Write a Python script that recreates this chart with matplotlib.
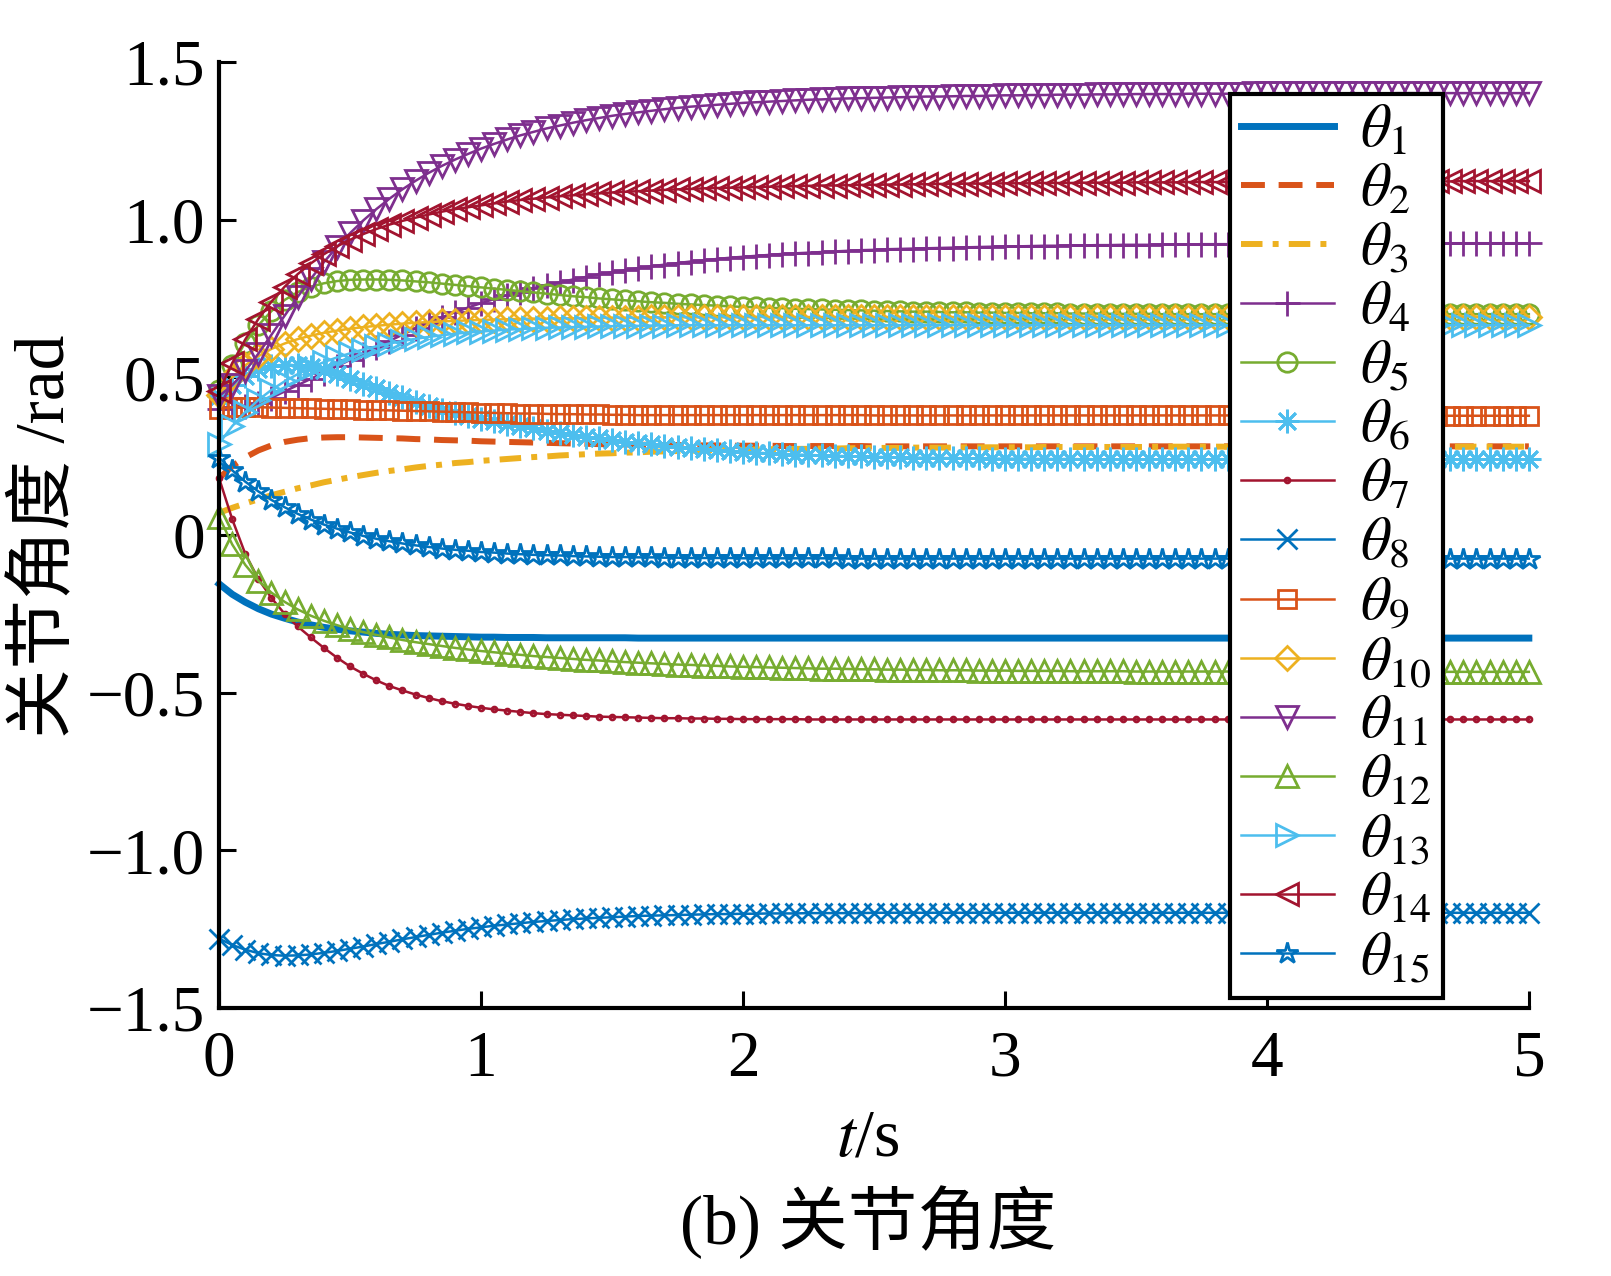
"""Joint angle trajectories theta_1..theta_15 over 0-5 s (panel b)."""
import numpy as np
import matplotlib
matplotlib.use("Agg")
import matplotlib.pyplot as plt

plt.rcParams["font.family"] = ["Liberation Serif", "Noto Sans CJK SC"]
plt.rcParams["mathtext.fontset"] = "stix"

# sample times (s), one marker per sample
t = np.linspace(0.0, 5.0, 101)

theta1 = [
    -0.155, -0.188, -0.213, -0.234, -0.251, -0.264, -0.276, -0.285, -0.293, -0.299,
    -0.304, -0.308, -0.312, -0.315, -0.317, -0.319, -0.320, -0.321, -0.322, -0.323,
    -0.324, -0.324, -0.325, -0.325, -0.325, -0.326, -0.326, -0.326, -0.326, -0.326,
    -0.326, -0.326, -0.327, -0.327, -0.327, -0.327, -0.327, -0.327, -0.327, -0.327,
    -0.327, -0.327, -0.327, -0.327, -0.327, -0.327, -0.327, -0.327, -0.327, -0.327,
    -0.327, -0.327, -0.327, -0.327, -0.327, -0.327, -0.327, -0.327, -0.327, -0.327,
    -0.327, -0.327, -0.327, -0.327, -0.327, -0.327, -0.327, -0.327, -0.327, -0.327,
    -0.327, -0.327, -0.327, -0.327, -0.327, -0.327, -0.327, -0.327, -0.327, -0.327,
    -0.327, -0.327, -0.327, -0.327, -0.327, -0.327, -0.327, -0.327, -0.327, -0.327,
    -0.327, -0.327, -0.327, -0.327, -0.327, -0.327, -0.327, -0.327, -0.327, -0.327,
    -0.327]
theta2 = [
    0.180, 0.218, 0.246, 0.268, 0.284, 0.295, 0.302, 0.307, 0.309, 0.310,
    0.310, 0.309, 0.308, 0.307, 0.306, 0.304, 0.303, 0.301, 0.300, 0.299,
    0.297, 0.296, 0.295, 0.294, 0.293, 0.292, 0.291, 0.290, 0.289, 0.288,
    0.287, 0.287, 0.286, 0.286, 0.285, 0.285, 0.284, 0.284, 0.284, 0.283,
    0.283, 0.283, 0.283, 0.282, 0.282, 0.282, 0.282, 0.282, 0.282, 0.282,
    0.281, 0.281, 0.281, 0.281, 0.281, 0.281, 0.281, 0.281, 0.281, 0.281,
    0.281, 0.281, 0.281, 0.281, 0.281, 0.281, 0.281, 0.281, 0.281, 0.281,
    0.281, 0.281, 0.281, 0.281, 0.281, 0.281, 0.281, 0.281, 0.281, 0.281,
    0.281, 0.281, 0.281, 0.281, 0.281, 0.281, 0.281, 0.281, 0.281, 0.281,
    0.281, 0.281, 0.281, 0.281, 0.281, 0.281, 0.281, 0.281, 0.281, 0.281,
    0.281]
theta3 = [
    0.070, 0.086, 0.100, 0.113, 0.126, 0.137, 0.148, 0.157, 0.167, 0.175,
    0.183, 0.190, 0.197, 0.203, 0.208, 0.214, 0.219, 0.223, 0.228, 0.231,
    0.235, 0.238, 0.241, 0.244, 0.247, 0.249, 0.252, 0.254, 0.256, 0.258,
    0.259, 0.261, 0.262, 0.264, 0.265, 0.266, 0.267, 0.268, 0.269, 0.270,
    0.270, 0.271, 0.272, 0.272, 0.273, 0.273, 0.274, 0.274, 0.275, 0.275,
    0.276, 0.276, 0.276, 0.277, 0.277, 0.277, 0.277, 0.278, 0.278, 0.278,
    0.278, 0.278, 0.278, 0.279, 0.279, 0.279, 0.279, 0.279, 0.279, 0.279,
    0.279, 0.279, 0.280, 0.280, 0.280, 0.280, 0.280, 0.280, 0.280, 0.280,
    0.280, 0.280, 0.280, 0.280, 0.280, 0.280, 0.280, 0.280, 0.280, 0.280,
    0.280, 0.280, 0.280, 0.280, 0.280, 0.280, 0.280, 0.280, 0.280, 0.280,
    0.280]
theta4 = [
    0.400, 0.405, 0.410, 0.420, 0.435, 0.455, 0.475, 0.495, 0.515, 0.535,
    0.555, 0.575, 0.595, 0.615, 0.635, 0.655, 0.673, 0.690, 0.706, 0.721,
    0.735, 0.748, 0.760, 0.771, 0.782, 0.792, 0.801, 0.810, 0.818, 0.826,
    0.833, 0.840, 0.846, 0.852, 0.857, 0.862, 0.867, 0.871, 0.875, 0.879,
    0.882, 0.885, 0.888, 0.891, 0.893, 0.895, 0.897, 0.899, 0.901, 0.903,
    0.904, 0.906, 0.907, 0.908, 0.909, 0.910, 0.911, 0.912, 0.913, 0.914,
    0.915, 0.915, 0.916, 0.917, 0.917, 0.918, 0.918, 0.919, 0.919, 0.920,
    0.920, 0.920, 0.921, 0.921, 0.921, 0.922, 0.922, 0.922, 0.922, 0.923,
    0.923, 0.923, 0.923, 0.923, 0.923, 0.924, 0.924, 0.924, 0.924, 0.924,
    0.924, 0.924, 0.924, 0.925, 0.925, 0.925, 0.925, 0.925, 0.925, 0.925,
    0.925]
theta5 = [
    0.460, 0.540, 0.610, 0.665, 0.710, 0.745, 0.770, 0.787, 0.798, 0.805,
    0.809, 0.810, 0.810, 0.809, 0.807, 0.804, 0.801, 0.797, 0.793, 0.789,
    0.785, 0.781, 0.777, 0.773, 0.769, 0.765, 0.761, 0.757, 0.754, 0.750,
    0.747, 0.744, 0.741, 0.738, 0.736, 0.733, 0.731, 0.729, 0.727, 0.725,
    0.723, 0.722, 0.720, 0.719, 0.717, 0.716, 0.715, 0.714, 0.713, 0.712,
    0.711, 0.710, 0.709, 0.708, 0.708, 0.707, 0.706, 0.706, 0.705, 0.705,
    0.704, 0.704, 0.703, 0.703, 0.703, 0.702, 0.702, 0.702, 0.701, 0.701,
    0.701, 0.701, 0.700, 0.700, 0.700, 0.700, 0.700, 0.700, 0.700, 0.700,
    0.700, 0.700, 0.700, 0.700, 0.700, 0.700, 0.700, 0.700, 0.700, 0.700,
    0.700, 0.700, 0.700, 0.700, 0.700, 0.700, 0.700, 0.700, 0.700, 0.700,
    0.700]
theta6 = [
    0.440, 0.475, 0.505, 0.525, 0.536, 0.540, 0.538, 0.532, 0.522, 0.509,
    0.495, 0.480, 0.465, 0.450, 0.436, 0.422, 0.409, 0.397, 0.386, 0.377,
    0.368, 0.360, 0.352, 0.345, 0.338, 0.331, 0.324, 0.318, 0.312, 0.306,
    0.301, 0.296, 0.291, 0.287, 0.283, 0.279, 0.275, 0.272, 0.269, 0.266,
    0.264, 0.261, 0.259, 0.257, 0.255, 0.254, 0.252, 0.251, 0.250, 0.249,
    0.248, 0.247, 0.246, 0.245, 0.245, 0.244, 0.244, 0.243, 0.243, 0.242,
    0.242, 0.242, 0.241, 0.241, 0.241, 0.241, 0.240, 0.240, 0.240, 0.240,
    0.240, 0.240, 0.240, 0.240, 0.240, 0.240, 0.240, 0.240, 0.240, 0.240,
    0.240, 0.240, 0.240, 0.240, 0.240, 0.240, 0.240, 0.240, 0.240, 0.240,
    0.240, 0.240, 0.240, 0.240, 0.240, 0.240, 0.240, 0.240, 0.240, 0.240,
    0.240]
theta7 = [
    0.180, 0.050, -0.060, -0.140, -0.200, -0.250, -0.290, -0.325, -0.358, -0.389,
    -0.417, -0.440, -0.461, -0.479, -0.493, -0.506, -0.517, -0.527, -0.535, -0.542,
    -0.548, -0.553, -0.557, -0.561, -0.565, -0.568, -0.570, -0.572, -0.574, -0.576,
    -0.577, -0.578, -0.579, -0.580, -0.581, -0.581, -0.582, -0.582, -0.583, -0.583,
    -0.584, -0.584, -0.584, -0.584, -0.584, -0.585, -0.585, -0.585, -0.585, -0.585,
    -0.585, -0.585, -0.585, -0.585, -0.585, -0.585, -0.585, -0.585, -0.585, -0.585,
    -0.585, -0.585, -0.585, -0.585, -0.585, -0.585, -0.585, -0.585, -0.585, -0.585,
    -0.585, -0.585, -0.585, -0.585, -0.585, -0.585, -0.585, -0.585, -0.585, -0.585,
    -0.585, -0.585, -0.585, -0.585, -0.585, -0.585, -0.585, -0.585, -0.585, -0.585,
    -0.585, -0.585, -0.585, -0.585, -0.585, -0.585, -0.585, -0.585, -0.585, -0.585,
    -0.585]
theta8 = [
    -1.280, -1.300, -1.315, -1.326, -1.332, -1.334, -1.333, -1.330, -1.325, -1.319,
    -1.312, -1.305, -1.297, -1.290, -1.282, -1.275, -1.268, -1.261, -1.255, -1.249,
    -1.244, -1.239, -1.235, -1.231, -1.227, -1.224, -1.221, -1.218, -1.216, -1.214,
    -1.212, -1.210, -1.208, -1.207, -1.206, -1.205, -1.204, -1.203, -1.202, -1.202,
    -1.201, -1.201, -1.200, -1.200, -1.200, -1.199, -1.199, -1.199, -1.199, -1.199,
    -1.198, -1.198, -1.198, -1.198, -1.198, -1.198, -1.198, -1.198, -1.198, -1.198,
    -1.198, -1.198, -1.198, -1.198, -1.198, -1.198, -1.198, -1.198, -1.198, -1.198,
    -1.198, -1.198, -1.198, -1.198, -1.198, -1.198, -1.198, -1.198, -1.198, -1.198,
    -1.198, -1.198, -1.198, -1.198, -1.198, -1.198, -1.198, -1.198, -1.198, -1.198,
    -1.198, -1.198, -1.198, -1.198, -1.198, -1.198, -1.198, -1.198, -1.198, -1.198,
    -1.198]
theta9 = [
    0.400, 0.405, 0.405, 0.405, 0.404, 0.403, 0.402, 0.401, 0.400, 0.399,
    0.398, 0.397, 0.396, 0.395, 0.394, 0.393, 0.392, 0.391, 0.390, 0.389,
    0.388, 0.387, 0.386, 0.385, 0.385, 0.384, 0.383, 0.383, 0.382, 0.382,
    0.381, 0.381, 0.380, 0.380, 0.380, 0.380, 0.380, 0.380, 0.380, 0.380,
    0.380, 0.380, 0.380, 0.380, 0.380, 0.380, 0.380, 0.380, 0.380, 0.380,
    0.379, 0.379, 0.379, 0.379, 0.379, 0.379, 0.379, 0.379, 0.379, 0.379,
    0.379, 0.379, 0.379, 0.379, 0.379, 0.379, 0.379, 0.379, 0.379, 0.379,
    0.379, 0.379, 0.379, 0.379, 0.379, 0.379, 0.379, 0.379, 0.379, 0.379,
    0.378, 0.378, 0.378, 0.378, 0.378, 0.378, 0.378, 0.378, 0.378, 0.378,
    0.378, 0.378, 0.378, 0.378, 0.378, 0.378, 0.378, 0.378, 0.378, 0.378,
    0.378]
theta10 = [
    0.445, 0.500, 0.538, 0.567, 0.590, 0.607, 0.621, 0.632, 0.641, 0.648,
    0.654, 0.659, 0.663, 0.667, 0.670, 0.673, 0.675, 0.677, 0.679, 0.680,
    0.682, 0.683, 0.684, 0.685, 0.686, 0.686, 0.687, 0.687, 0.688, 0.688,
    0.689, 0.689, 0.689, 0.690, 0.690, 0.690, 0.690, 0.690, 0.690, 0.690,
    0.690, 0.691, 0.691, 0.691, 0.691, 0.691, 0.691, 0.691, 0.691, 0.691,
    0.691, 0.691, 0.691, 0.691, 0.691, 0.691, 0.691, 0.691, 0.691, 0.691,
    0.692, 0.692, 0.692, 0.692, 0.692, 0.692, 0.692, 0.692, 0.692, 0.692,
    0.692, 0.692, 0.692, 0.692, 0.692, 0.692, 0.692, 0.692, 0.692, 0.692,
    0.692, 0.692, 0.692, 0.692, 0.692, 0.692, 0.692, 0.692, 0.692, 0.692,
    0.692, 0.692, 0.692, 0.692, 0.692, 0.692, 0.692, 0.692, 0.692, 0.692,
    0.692]
theta11 = [
    0.440, 0.475, 0.520, 0.575, 0.635, 0.695, 0.755, 0.812, 0.865, 0.913,
    0.957, 0.997, 1.033, 1.066, 1.096, 1.123, 1.148, 1.170, 1.190, 1.208,
    1.225, 1.240, 1.254, 1.267, 1.278, 1.289, 1.298, 1.307, 1.315, 1.322,
    1.329, 1.335, 1.340, 1.345, 1.350, 1.354, 1.358, 1.361, 1.364, 1.367,
    1.370, 1.372, 1.374, 1.376, 1.378, 1.380, 1.381, 1.383, 1.384, 1.385,
    1.386, 1.387, 1.388, 1.389, 1.390, 1.390, 1.391, 1.392, 1.392, 1.393,
    1.394, 1.394, 1.395, 1.395, 1.396, 1.396, 1.396, 1.397, 1.397, 1.397,
    1.398, 1.398, 1.398, 1.398, 1.399, 1.399, 1.399, 1.399, 1.399, 1.400,
    1.400, 1.400, 1.400, 1.400, 1.400, 1.400, 1.400, 1.400, 1.400, 1.400,
    1.401, 1.401, 1.401, 1.401, 1.401, 1.401, 1.401, 1.401, 1.401, 1.401,
    1.401]
theta12 = [
    0.058, -0.030, -0.095, -0.145, -0.183, -0.212, -0.236, -0.256, -0.272, -0.286,
    -0.298, -0.308, -0.317, -0.325, -0.333, -0.340, -0.346, -0.352, -0.358, -0.363,
    -0.368, -0.372, -0.376, -0.380, -0.384, -0.387, -0.390, -0.393, -0.396, -0.398,
    -0.401, -0.403, -0.405, -0.407, -0.409, -0.411, -0.412, -0.414, -0.415, -0.417,
    -0.418, -0.419, -0.420, -0.421, -0.422, -0.423, -0.424, -0.424, -0.425, -0.426,
    -0.426, -0.427, -0.427, -0.428, -0.428, -0.429, -0.429, -0.429, -0.430, -0.430,
    -0.430, -0.431, -0.431, -0.431, -0.431, -0.432, -0.432, -0.432, -0.432, -0.432,
    -0.433, -0.433, -0.433, -0.433, -0.433, -0.433, -0.433, -0.433, -0.433, -0.433,
    -0.433, -0.433, -0.433, -0.433, -0.433, -0.434, -0.434, -0.434, -0.434, -0.434,
    -0.434, -0.434, -0.434, -0.434, -0.434, -0.434, -0.434, -0.434, -0.434, -0.434,
    -0.434]
theta13 = [
    0.290, 0.345, 0.390, 0.428, 0.460, 0.487, 0.510, 0.530, 0.548, 0.563,
    0.576, 0.588, 0.598, 0.607, 0.615, 0.622, 0.628, 0.633, 0.638, 0.642,
    0.645, 0.648, 0.651, 0.653, 0.655, 0.657, 0.658, 0.659, 0.660, 0.661,
    0.662, 0.663, 0.663, 0.664, 0.664, 0.665, 0.665, 0.665, 0.665, 0.665,
    0.665, 0.665, 0.665, 0.665, 0.665, 0.665, 0.665, 0.665, 0.665, 0.665,
    0.665, 0.665, 0.665, 0.665, 0.665, 0.665, 0.665, 0.665, 0.665, 0.665,
    0.665, 0.665, 0.665, 0.665, 0.665, 0.665, 0.665, 0.665, 0.665, 0.665,
    0.665, 0.665, 0.665, 0.665, 0.665, 0.665, 0.665, 0.665, 0.665, 0.665,
    0.665, 0.665, 0.665, 0.665, 0.665, 0.665, 0.665, 0.665, 0.665, 0.665,
    0.665, 0.665, 0.665, 0.665, 0.665, 0.665, 0.665, 0.665, 0.665, 0.665,
    0.665]
theta14 = [
    0.455, 0.545, 0.620, 0.685, 0.740, 0.787, 0.827, 0.861, 0.890, 0.915,
    0.936, 0.954, 0.970, 0.984, 0.996, 1.006, 1.016, 1.025, 1.033, 1.039,
    1.045, 1.051, 1.057, 1.062, 1.066, 1.070, 1.074, 1.077, 1.080, 1.083,
    1.086, 1.088, 1.090, 1.092, 1.094, 1.096, 1.097, 1.099, 1.100, 1.101,
    1.102, 1.103, 1.104, 1.105, 1.106, 1.107, 1.108, 1.108, 1.109, 1.110,
    1.110, 1.111, 1.111, 1.112, 1.112, 1.113, 1.113, 1.114, 1.114, 1.114,
    1.115, 1.115, 1.115, 1.116, 1.116, 1.116, 1.117, 1.117, 1.117, 1.117,
    1.118, 1.118, 1.118, 1.118, 1.119, 1.119, 1.119, 1.119, 1.119, 1.120,
    1.120, 1.120, 1.120, 1.120, 1.120, 1.121, 1.121, 1.121, 1.121, 1.121,
    1.121, 1.121, 1.121, 1.121, 1.121, 1.122, 1.122, 1.122, 1.122, 1.122,
    1.122]
theta15 = [
    0.245, 0.205, 0.169, 0.138, 0.111, 0.088, 0.067, 0.049, 0.033, 0.020,
    0.008, -0.003, -0.012, -0.020, -0.027, -0.033, -0.038, -0.043, -0.047, -0.050,
    -0.054, -0.056, -0.059, -0.061, -0.063, -0.064, -0.065, -0.067, -0.068, -0.069,
    -0.070, -0.070, -0.071, -0.071, -0.072, -0.072, -0.073, -0.073, -0.073, -0.073,
    -0.074, -0.074, -0.074, -0.074, -0.074, -0.074, -0.074, -0.074, -0.075, -0.075,
    -0.075, -0.075, -0.075, -0.075, -0.075, -0.075, -0.075, -0.075, -0.075, -0.075,
    -0.075, -0.075, -0.075, -0.075, -0.075, -0.075, -0.075, -0.075, -0.075, -0.075,
    -0.075, -0.075, -0.075, -0.075, -0.075, -0.075, -0.075, -0.075, -0.075, -0.075,
    -0.075, -0.075, -0.075, -0.075, -0.075, -0.075, -0.075, -0.075, -0.075, -0.075,
    -0.075, -0.075, -0.075, -0.075, -0.075, -0.075, -0.075, -0.075, -0.075, -0.075,
    -0.075]

series = [theta1, theta2, theta3, theta4, theta5, theta6, theta7, theta8,
          theta9, theta10, theta11, theta12, theta13, theta14, theta15]
labels = [r"$\theta_{%d}$" % (i + 1) for i in range(15)]

# MATLAB default colour order
BLUE, ORANGE, YELLOW = "#0072BD", "#D95319", "#EDB120"
PURPLE, GREEN, CYAN, RED = "#7E2F8E", "#77AC30", "#4DBEEE", "#A2142F"
ASTER = (8, 2, 0)

styles = [
    dict(color=BLUE, lw=5.0),
    dict(color=ORANGE, lw=4.3, dashes=(4.0, 2.3)),
    dict(color=YELLOW, lw=4.3, dashes=(3.6, 1.7, 1.0, 1.7)),
    dict(color=PURPLE, lw=1.8, marker="+", ms=18),
    dict(color=GREEN, lw=1.8, marker="o", ms=14),
    dict(color=CYAN, lw=1.8, marker=ASTER, ms=17),
    dict(color=RED, lw=1.8, marker=".", ms=7),
    dict(color=BLUE, lw=1.8, marker="x", ms=14),
    dict(color=ORANGE, lw=1.8, marker="s", ms=12.5),
    dict(color=YELLOW, lw=1.8, marker="D", ms=12.5),
    dict(color=PURPLE, lw=1.8, marker="v", ms=16),
    dict(color=GREEN, lw=1.8, marker="^", ms=16),
    dict(color=CYAN, lw=1.8, marker=">", ms=16),
    dict(color=RED, lw=1.8, marker="<", ms=16),
    dict(color=BLUE, lw=1.8, marker="*", ms=16),
]

fig = plt.figure(figsize=(16.11, 12.76), dpi=100)
ax = fig.add_axes([0.136, 0.21, 0.813, 0.7415])

for y, lab, st in zip(series, labels, styles):
    st = dict(st)
    if "marker" in st:
        st.setdefault("mfc", "none")
        st["mew"] = 2.0
    ax.plot(t, y, label=lab, clip_on=False, **st)

ax.set_xlim(0, 5)
ax.set_ylim(-1.5, 1.5)
ax.set_xticks([0, 1, 2, 3, 4, 5])
ax.set_xticklabels(["0", "1", "2", "3", "4", "5"])
ax.set_yticks([-1.5, -1.0, -0.5, 0, 0.5, 1.0, 1.5])
ax.set_yticklabels(["\u22121.5", "\u22121.0", "\u22120.5", "0", "0.5", "1.0", "1.5"])

for side in ("top", "right"):
    ax.spines[side].set_visible(False)
for side in ("left", "bottom"):
    ax.spines[side].set_linewidth(3.0)
ax.tick_params(direction="in", length=12, width=2.2, labelsize=47)
ax.tick_params(axis="x", pad=16)
ax.tick_params(axis="y", pad=10)

leg = ax.legend(loc="upper left", bbox_to_anchor=(0.772, 0.966),
                borderaxespad=0, fontsize=43, numpoints=1, handlelength=1.55,
                handletextpad=0.45, labelspacing=0.07, borderpad=0.18,
                fancybox=False, framealpha=1, edgecolor="black")
leg.get_frame().set_linewidth(3.0)

fig.text(0.539, 0.107, r"$t$/s", ha="center", va="center", fontsize=49)
fig.text(0.539, 0.042, "(b) 关节角度", ha="center", va="center", fontsize=50)
fig.text(0.029, 0.58, "关节角度 /rad", ha="center", va="center",
         rotation=90, fontsize=50)

fig.savefig("out.png", dpi=100)
